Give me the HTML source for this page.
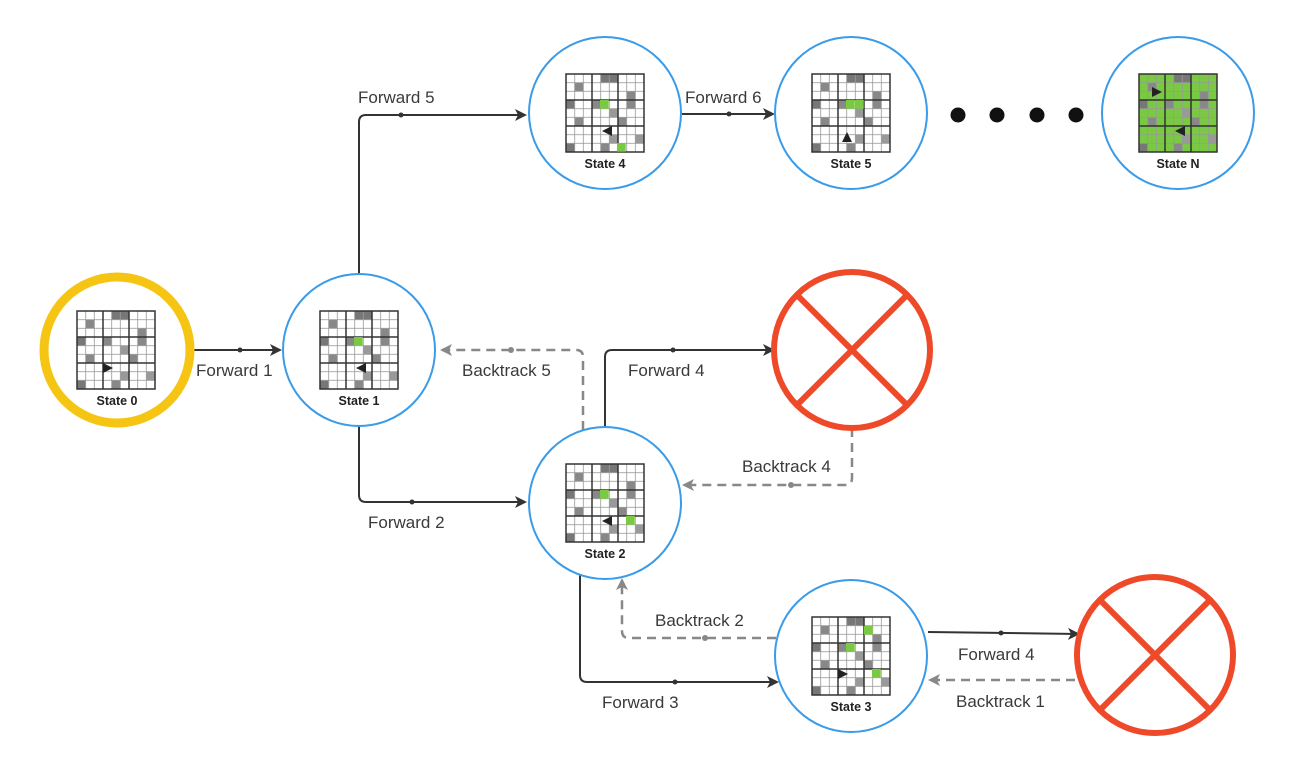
<!DOCTYPE html>
<html><head><meta charset="utf-8"><style>
html,body{margin:0;padding:0;background:#fff}
svg{display:block}
text{font-family:"Liberation Sans",sans-serif}
.l{font-size:17px;fill:#3a3a3a}
.s{font-size:12.5px;font-weight:bold;fill:#222}
</style></head><body>
<svg width="1296" height="771" viewBox="0 0 1296 771" xmlns="http://www.w3.org/2000/svg">
<defs>
<pattern id="cells" width="8.667" height="8.667" patternUnits="userSpaceOnUse">
<rect width="8.667" height="8.667" fill="none" stroke="#999" stroke-width="0.8"/>
</pattern>
<g id="gray">
<rect x="34.7" y="0" width="8.7" height="8.7" fill="#777"/>
<rect x="43.3" y="0" width="8.7" height="8.7" fill="#777"/>
<rect x="8.7" y="8.7" width="8.7" height="8.7" fill="#888"/>
<rect x="60.7" y="17.3" width="8.7" height="8.7" fill="#888"/>
<rect x="0" y="26" width="8.7" height="8.7" fill="#777"/>
<rect x="26" y="26" width="8.7" height="8.7" fill="#888"/>
<rect x="60.7" y="26" width="8.7" height="8.7" fill="#888"/>
<rect x="43.3" y="34.7" width="8.7" height="8.7" fill="#999"/>
<rect x="8.7" y="43.3" width="8.7" height="8.7" fill="#888"/>
<rect x="52" y="43.3" width="8.7" height="8.7" fill="#888"/>
<rect x="43.3" y="60.7" width="8.7" height="8.7" fill="#999"/>
<rect x="69.3" y="60.7" width="8.7" height="8.7" fill="#999"/>
<rect x="0" y="69.3" width="8.7" height="8.7" fill="#777"/>
<rect x="34.7" y="69.3" width="8.7" height="8.7" fill="#888"/>
</g>
<g id="lines">
<rect width="78" height="78" fill="url(#cells)"/>
<rect width="78" height="78" fill="none" stroke="#333" stroke-width="1.5"/>
<path d="M26 0V78M52 0V78M0 26H78M0 52H78" stroke="#333" stroke-width="1.5"/>
</g>
<g id="grid">
<rect width="78" height="78" fill="#fff"/>
<use href="#gray"/>
<use href="#lines"/>
</g>
<marker id="ad" markerWidth="12" markerHeight="12" refX="10" refY="6" orient="auto" markerUnits="userSpaceOnUse"><path d="M0 0L12 6L0 12L3 6Z" fill="#333"/></marker>
<marker id="ag" markerWidth="12" markerHeight="12" refX="10" refY="6" orient="auto" markerUnits="userSpaceOnUse"><path d="M0 0L12 6L0 12L3 6Z" fill="#888"/></marker>
</defs>

<!-- edges -->
<g fill="none" stroke="#333" stroke-width="2">
<path d="M194 350H280" marker-end="url(#ad)"/>
<path d="M359 274V122Q359 115 366 115H525" marker-end="url(#ad)"/>
<path d="M682 114H773" marker-end="url(#ad)"/>
<path d="M359 426V495Q359 502 366 502H525" marker-end="url(#ad)"/>
<path d="M605 427V357Q605 350 612 350H773" marker-end="url(#ad)"/>
<path d="M580 575V675Q580 682 587 682H777" marker-end="url(#ad)"/>
<path d="M928 632L1078 634" marker-end="url(#ad)"/>
</g>
<g fill="none" stroke="#888" stroke-width="2.5" stroke-dasharray="9 6">
<path d="M583 430V357Q583 350 576 350H442" marker-end="url(#ag)"/>
<path d="M852 428V478Q852 485 845 485H684" marker-end="url(#ag)"/>
<path d="M776 638H629Q622 638 622 631V580" marker-end="url(#ag)"/>
<path d="M1075 680H930" marker-end="url(#ag)"/>
</g>
<g fill="#333">
<circle cx="240" cy="350" r="2.5"/><circle cx="401" cy="115" r="2.5"/><circle cx="729" cy="114" r="2.5"/>
<circle cx="412" cy="502" r="2.5"/><circle cx="673" cy="350" r="2.5"/><circle cx="675" cy="682" r="2.5"/>
<circle cx="1001" cy="633" r="2.5"/>
</g>
<g fill="#888">
<circle cx="511" cy="350" r="3"/><circle cx="791" cy="485" r="3"/><circle cx="705" cy="638" r="3"/>
</g>
<g fill="#111">
<circle cx="958" cy="115" r="7.5"/><circle cx="997" cy="115" r="7.5"/><circle cx="1037" cy="115" r="7.5"/><circle cx="1076" cy="115" r="7.5"/>
</g>

<!-- labels -->
<text class="l" x="196" y="376">Forward 1</text>
<text class="l" x="358" y="103">Forward 5</text>
<text class="l" x="685" y="103">Forward 6</text>
<text class="l" x="368" y="528">Forward 2</text>
<text class="l" x="628" y="376">Forward 4</text>
<text class="l" x="462" y="376">Backtrack 5</text>
<text class="l" x="742" y="472">Backtrack 4</text>
<text class="l" x="655" y="626">Backtrack 2</text>
<text class="l" x="602" y="708">Forward 3</text>
<text class="l" x="958" y="660">Forward 4</text>
<text class="l" x="956" y="707">Backtrack 1</text>

<!-- nodes -->
<circle cx="117" cy="350" r="73" fill="#fff" stroke="#f6c514" stroke-width="9"/>
<use href="#grid" x="77" y="311"/>
<path d="M103 363l10 5-10 5z" fill="#222"/>
<text class="s" x="117" y="405" text-anchor="middle">State 0</text>

<g fill="#fff" stroke="#3a9be8" stroke-width="2">
<circle cx="359" cy="350" r="76"/>
<circle cx="605" cy="113" r="76"/>
<circle cx="851" cy="113" r="76"/>
<circle cx="1178" cy="113" r="76"/>
<circle cx="605" cy="503" r="76"/>
<circle cx="851" cy="656" r="76"/>
</g>

<use href="#grid" x="320" y="311"/>
<rect x="354" y="337" width="8.7" height="8.7" fill="#7ac943"/>
<path d="M366 363l-10 5 10 5z" fill="#222"/>
<text class="s" x="359" y="405" text-anchor="middle">State 1</text>

<use href="#grid" x="566" y="74"/>
<rect x="600" y="100" width="8.7" height="8.7" fill="#7ac943"/>
<rect x="617" y="143" width="8.7" height="8.7" fill="#7ac943"/>
<path d="M612 126l-10 5 10 5z" fill="#222"/>
<text class="s" x="605" y="168" text-anchor="middle">State 4</text>

<use href="#grid" x="812" y="74"/>
<rect x="846" y="100" width="8.7" height="8.7" fill="#7ac943"/>
<rect x="855" y="100" width="8.7" height="8.7" fill="#7ac943"/>
<path d="M842 142l5-10 5 10z" fill="#222"/>
<text class="s" x="851" y="168" text-anchor="middle">State 5</text>

<rect x="1139" y="74" width="78" height="78" fill="#7ac943"/>
<use href="#gray" x="1139" y="74"/>
<use href="#lines" x="1139" y="74"/>
<path d="M1152 87l10 5-10 5z" fill="#222"/>
<path d="M1185 126l-10 5 10 5z" fill="#222"/>
<text class="s" x="1178" y="168" text-anchor="middle">State N</text>

<use href="#grid" x="566" y="464"/>
<rect x="600" y="490" width="8.7" height="8.7" fill="#7ac943"/>
<rect x="626" y="516" width="8.7" height="8.7" fill="#7ac943"/>
<path d="M612 516l-10 5 10 5z" fill="#222"/>
<text class="s" x="605" y="558" text-anchor="middle">State 2</text>

<use href="#grid" x="812" y="617"/>
<rect x="864" y="626" width="8.7" height="8.7" fill="#7ac943"/>
<rect x="846" y="643" width="8.7" height="8.7" fill="#7ac943"/>
<rect x="872" y="669" width="8.7" height="8.7" fill="#7ac943"/>
<path d="M838 669l10 5-10 5z" fill="#222"/>
<text class="s" x="851" y="711" text-anchor="middle">State 3</text>

<!-- failure -->
<g fill="none" stroke="#ee4a2a" stroke-width="6">
<circle cx="852" cy="350" r="78"/>
<path d="M797 295L907 405M907 295L797 405"/>
<circle cx="1155" cy="655" r="78"/>
<path d="M1100 600L1210 710M1210 600L1100 710"/>
</g>
</svg>
</body></html>
